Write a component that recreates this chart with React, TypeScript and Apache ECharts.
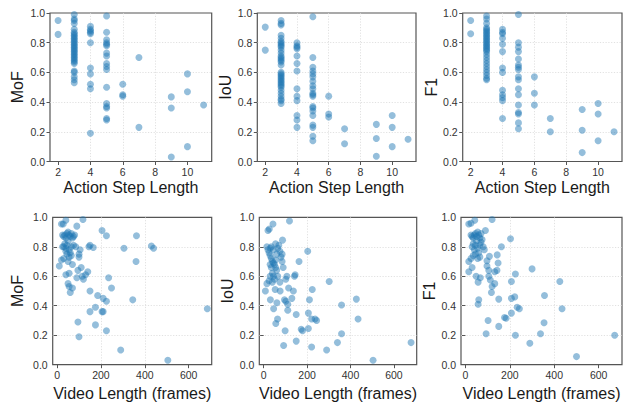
import React, { useEffect, useRef } from "react";
import * as echarts from "echarts";

// ---- data ----
const stepTicks = [2, 4, 6, 8, 10];
const frameTicks = [0, 200, 400, 600];
const metricNames = ["MoF", "IoU", "F1"];

const stepMoF: number[][] = [
  [2, 0.95], [2, 0.856],
  [3, 0.99], [3, 0.96], [3, 0.95], [3, 0.93], [3, 0.89], [3, 0.87], [3, 0.86], [3, 0.85], [3, 0.84],
  [3, 0.83], [3, 0.82], [3, 0.81], [3, 0.8], [3, 0.79], [3, 0.78], [3, 0.77], [3, 0.76], [3, 0.75],
  [3, 0.74], [3, 0.73], [3, 0.72], [3, 0.71], [3, 0.7], [3, 0.69], [3, 0.68], [3, 0.67], [3, 0.66],
  [3, 0.61], [3, 0.6], [3, 0.57], [3, 0.55], [3, 0.53],
  [4, 0.91], [4, 0.89], [4, 0.88], [4, 0.87], [4, 0.86], [4, 0.8], [4, 0.63], [4, 0.59], [4, 0.52], [4, 0.49], [4, 0.19],
  [5, 0.98], [5, 0.87], [5, 0.82], [5, 0.8], [5, 0.79], [5, 0.78], [5, 0.73], [5, 0.71], [5, 0.66], [5, 0.64],
  [5, 0.62], [5, 0.5], [5, 0.39], [5, 0.37], [5, 0.36], [5, 0.29], [5, 0.28],
  [6, 0.52], [6, 0.45], [6, 0.44],
  [7, 0.7], [7, 0.23],
  [9, 0.435], [9, 0.36], [9, 0.03],
  [10, 0.59], [10, 0.47], [10, 0.1],
  [11, 0.38],
];

const stepIoU: number[][] = [
  [2, 0.905], [2, 0.75],
  [3, 0.95], [3, 0.93], [3, 0.92], [3, 0.85], [3, 0.83], [3, 0.81], [3, 0.8], [3, 0.79], [3, 0.78],
  [3, 0.77], [3, 0.75], [3, 0.73], [3, 0.71], [3, 0.7], [3, 0.69], [3, 0.68], [3, 0.67], [3, 0.65],
  [3, 0.6], [3, 0.59], [3, 0.58], [3, 0.57], [3, 0.56], [3, 0.55], [3, 0.54], [3, 0.53], [3, 0.52],
  [3, 0.51], [3, 0.5], [3, 0.48], [3, 0.46], [3, 0.44], [3, 0.42], [3, 0.41], [3, 0.39],
  [4, 0.8], [4, 0.78], [4, 0.77], [4, 0.76], [4, 0.71], [4, 0.66], [4, 0.61], [4, 0.49], [4, 0.44],
  [4, 0.41], [4, 0.31], [4, 0.28], [4, 0.23],
  [5, 0.975], [5, 0.7], [5, 0.635], [5, 0.61], [5, 0.59], [5, 0.57], [5, 0.54], [5, 0.51], [5, 0.49],
  [5, 0.46], [5, 0.45], [5, 0.44], [5, 0.37], [5, 0.36], [5, 0.34], [5, 0.31], [5, 0.245], [5, 0.23],
  [5, 0.17], [5, 0.14],
  [6, 0.44], [6, 0.32], [6, 0.3],
  [7, 0.22], [7, 0.12],
  [9, 0.25], [9, 0.155], [9, 0.035],
  [10, 0.31], [10, 0.23], [10, 0.1],
  [11, 0.15],
];

const stepF1: number[][] = [
  [2, 0.95], [2, 0.86],
  [3, 0.98], [3, 0.96], [3, 0.93], [3, 0.9], [3, 0.89], [3, 0.88], [3, 0.87], [3, 0.86], [3, 0.85],
  [3, 0.84], [3, 0.83], [3, 0.82], [3, 0.81], [3, 0.8], [3, 0.79], [3, 0.78], [3, 0.77], [3, 0.76],
  [3, 0.75], [3, 0.74], [3, 0.72], [3, 0.7], [3, 0.68], [3, 0.66], [3, 0.64], [3, 0.62], [3, 0.6],
  [3, 0.58], [3, 0.56], [3, 0.55],
  [4, 0.89], [4, 0.87], [4, 0.86], [4, 0.83], [4, 0.79], [4, 0.74], [4, 0.63], [4, 0.6], [4, 0.48],
  [4, 0.45], [4, 0.43], [4, 0.41], [4, 0.29],
  [5, 0.99], [5, 0.8], [5, 0.77], [5, 0.74], [5, 0.69], [5, 0.65], [5, 0.635], [5, 0.62], [5, 0.57],
  [5, 0.55], [5, 0.49], [5, 0.45], [5, 0.38], [5, 0.33], [5, 0.32], [5, 0.26], [5, 0.22],
  [6, 0.57], [6, 0.46], [6, 0.38],
  [7, 0.29], [7, 0.2],
  [9, 0.35], [9, 0.21], [9, 0.06],
  [10, 0.39], [10, 0.32], [10, 0.14],
  [11, 0.2],
];

const framesMoF: number[][] = [
  [20, 0.955], [28, 0.955], [40, 0.98], [90, 0.94], [118, 0.985],
  [205, 0.91], [225, 0.875], [362, 0.875], [430, 0.805], [440, 0.79], [305, 0.79], [150, 0.81],
  [145, 0.8], [165, 0.795],
  [25, 0.88], [30, 0.87], [35, 0.88], [40, 0.86], [45, 0.89], [50, 0.9], [55, 0.88], [60, 0.87],
  [65, 0.89], [70, 0.86], [75, 0.87], [80, 0.88], [30, 0.8], [35, 0.82], [40, 0.79], [45, 0.81],
  [50, 0.84], [55, 0.78], [60, 0.76], [65, 0.8], [75, 0.81], [85, 0.8], [25, 0.8], [45, 0.75],
  [55, 0.73], [50, 0.7], [65, 0.74], [40, 0.77],
  [100, 0.75], [105, 0.78], [100, 0.73], [360, 0.7],
  [10, 0.67], [20, 0.71], [30, 0.72], [40, 0.61], [55, 0.62], [70, 0.68], [90, 0.59], [95, 0.64],
  [110, 0.66], [115, 0.6], [120, 0.58], [130, 0.61], [140, 0.63], [235, 0.59], [248, 0.52],
  [50, 0.55], [55, 0.53], [60, 0.49], [70, 0.52], [150, 0.5], [185, 0.47], [210, 0.45], [225, 0.43],
  [345, 0.44], [685, 0.38],
  [150, 0.36], [175, 0.39], [205, 0.36], [210, 0.36], [95, 0.29], [175, 0.27], [225, 0.23],
  [100, 0.19], [290, 0.1], [505, 0.03],
];

const framesIoU: number[][] = [
  [20, 0.91], [26, 0.92], [43, 0.955], [119, 0.975], [15, 0.8], [31, 0.79], [87, 0.845], [203, 0.77],
  [163, 0.7], [302, 0.565], [224, 0.51], [211, 0.44], [427, 0.445], [359, 0.405], [435, 0.31],
  [142, 0.6], [145, 0.61], [102, 0.58], [107, 0.6],
  [15, 0.55], [8, 0.5], [31, 0.44], [46, 0.38], [61, 0.42], [53, 0.51], [76, 0.5], [96, 0.44],
  [102, 0.43], [111, 0.41], [111, 0.37], [130, 0.45], [137, 0.5], [115, 0.52],
  [56, 0.28], [64, 0.31], [99, 0.23], [92, 0.13], [150, 0.34], [150, 0.16], [173, 0.24], [179, 0.23],
  [206, 0.245], [206, 0.35], [221, 0.31], [237, 0.31], [244, 0.3], [221, 0.12], [290, 0.1],
  [340, 0.15], [359, 0.21], [504, 0.03], [679, 0.15],
  [20, 0.78], [25, 0.76], [30, 0.74], [35, 0.72], [40, 0.7], [45, 0.69], [50, 0.68], [55, 0.66],
  [60, 0.64], [30, 0.68], [35, 0.66], [40, 0.62], [45, 0.6], [50, 0.58], [55, 0.71], [60, 0.75],
  [65, 0.79], [70, 0.81], [75, 0.77], [80, 0.73], [85, 0.7], [35, 0.8], [45, 0.78], [55, 0.82],
  [25, 0.57], [30, 0.6], [40, 0.56], [65, 0.6], [75, 0.56], [90, 0.66], [85, 0.75],
];

const framesF1: number[][] = [
  [15, 0.955], [25, 0.96], [42, 0.98], [120, 0.985], [90, 0.91], [203, 0.855],
  [162, 0.8], [143, 0.745], [147, 0.69], [300, 0.65], [225, 0.615], [207, 0.565], [425, 0.565],
  [356, 0.47], [222, 0.46], [207, 0.45], [150, 0.445], [233, 0.39], [243, 0.38], [435, 0.38],
  [207, 0.35], [176, 0.32], [183, 0.315], [102, 0.3], [150, 0.26], [93, 0.21], [225, 0.2],
  [338, 0.21], [354, 0.285], [290, 0.145], [500, 0.055], [672, 0.2],
  [97, 0.705], [108, 0.735], [15, 0.7], [30, 0.66], [15, 0.63], [48, 0.6], [57, 0.56], [67, 0.59],
  [105, 0.6], [112, 0.575], [120, 0.53], [132, 0.55], [117, 0.49], [60, 0.44], [57, 0.41],
  [97, 0.67], [105, 0.64], [132, 0.63], [142, 0.64],
  [25, 0.88], [30, 0.87], [35, 0.86], [40, 0.88], [45, 0.89], [50, 0.87], [55, 0.9], [60, 0.88],
  [65, 0.86], [70, 0.89], [75, 0.85], [30, 0.8], [35, 0.82], [40, 0.78], [45, 0.81], [50, 0.84],
  [55, 0.79], [60, 0.76], [65, 0.81], [70, 0.83], [80, 0.8], [35, 0.74], [45, 0.75], [55, 0.72],
  [65, 0.73], [25, 0.72], [85, 0.78],
];

// ---- layout ----
const gridRects = [
  { left: 50, top: 13, width: 161.7, height: 148.5 },
  { left: 257.3, top: 13, width: 158.7, height: 148.5 },
  { left: 462.7, top: 13, width: 159.3, height: 148.5 },
  { left: 52.7, top: 217.3, width: 159, height: 147.4 },
  { left: 259.3, top: 217.3, width: 157.4, height: 147.4 },
  { left: 461, top: 217.3, width: 161, height: 147.4 },
];
const yNameGaps = [25, 21, 22, 27, 23, 20];

const FONT = "'Liberation Sans', Arial, sans-serif";
const AX = "#555";
const GRIDLINE = { color: "#d9d9d9", type: [1.2, 1.6], width: 0.8 };

export default function App() {
  const ref = useRef<HTMLDivElement>(null);
  useEffect(() => {
    if (!ref.current) return;
    const chart = echarts.init(ref.current, null, { renderer: "svg" });
    const seriesData = [stepMoF, stepIoU, stepF1, framesMoF, framesIoU, framesF1];

    const grid = gridRects.map((r) => ({
      ...r,
      show: true,
      borderColor: AX,
      borderWidth: 1.2,
      backgroundColor: "transparent",
    }));

    const xAxis = gridRects.map((_, i) => {
      const top = i < 3;
      const ticks = top ? stepTicks : frameTicks;
      return {
        type: "value",
        gridIndex: i,
        min: top ? 1.5 : -20,
        max: top ? 11.5 : 705,
        name: top ? "Action Step Length" : "Video Length (frames)",
        nameLocation: "middle",
        nameGap: top ? 18 : 21,
        nameTextStyle: { fontSize: 16, color: "#1a1a1a", fontFamily: FONT },
        axisLine: { show: false },
        axisTick: {
          show: true,
          inside: false,
          length: 3.5,
          lineStyle: { color: AX },
          customValues: ticks,
        },
        axisLabel: {
          fontSize: 10.5,
          color: "#333",
          fontFamily: FONT,
          margin: 5,
          customValues: ticks,
          formatter: (v: number) => String(Math.round(v)),
        },
        splitLine: { show: true, showMinLine: false, showMaxLine: false, lineStyle: GRIDLINE },
      };
    });

    const yAxis = gridRects.map((_, i) => ({
      type: "value",
      gridIndex: i,
      min: 0,
      max: 1,
      interval: 0.2,
      name: metricNames[i % 3],
      nameLocation: "middle",
      nameGap: yNameGaps[i],
      nameTextStyle: { fontSize: 16, color: "#1a1a1a", fontFamily: FONT },
      axisLine: { show: false },
      axisTick: { show: true, length: 3.5, lineStyle: { color: AX } },
      axisLabel: {
        fontSize: 10.5,
        color: "#333",
        fontFamily: FONT,
        margin: 5,
        formatter: (v: number) => v.toFixed(1),
      },
      splitLine: { show: true, showMinLine: false, showMaxLine: false, lineStyle: GRIDLINE },
    }));

    const series = seriesData.map((d, i) => ({
      type: "scatter",
      xAxisIndex: i,
      yAxisIndex: i,
      data: d,
      symbolSize: 7,
      itemStyle: { color: "rgba(31,119,180,0.6)", borderWidth: 0 },
      emphasis: { disabled: true },
    }));

    chart.setOption({
      animation: false,
      backgroundColor: "#fff",
      grid,
      xAxis,
      yAxis,
      series,
    });
    return () => chart.dispose();
  }, []);

  return (
    <div
      ref={ref}
      style={{ position: "fixed", left: 0, top: 0, width: 628, height: 404 }}
    />
  );
}
